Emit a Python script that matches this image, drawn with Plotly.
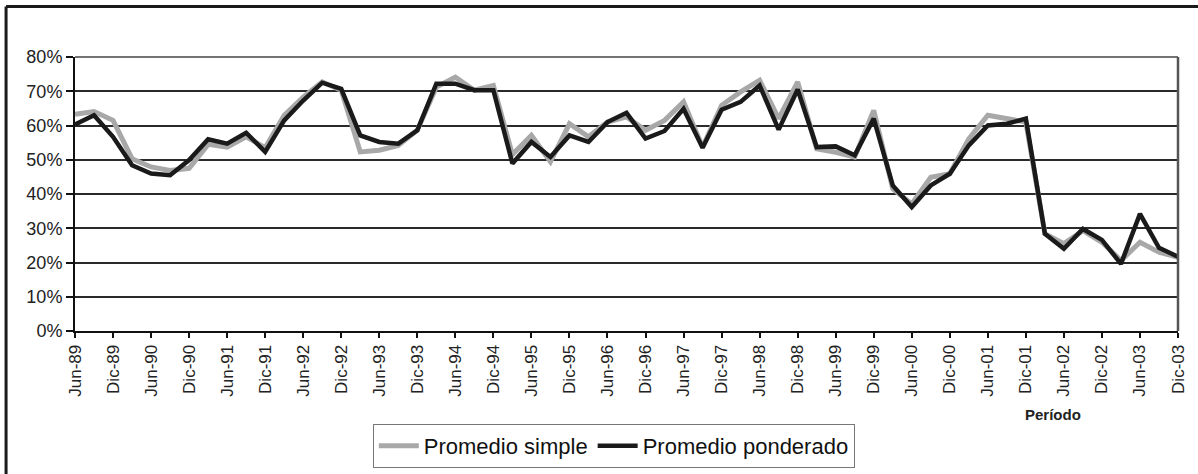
import plotly.graph_objects as go

# Quarterly periods Jun-89 .. Dic-03
months = ["Mar", "Jun", "Sep", "Dic"]
periods = []
y, q = 1989, 1
while (y, q) <= (2003, 3):
    periods.append(f"{months[q]}-{str(y)[2:]}")
    q += 1
    if q == 4:
        q = 0
        y += 1

promedio_simple = [
    63.3, 64.1, 61.5, 50.3, 47.9, 46.9, 47.5, 54.5, 53.7, 56.7,
    53.5, 63.0, 68.3, 72.7, 70.3, 52.3, 52.8, 54.2, 58.6, 71.2,
    74.1, 70.3, 71.7, 51.5, 57.1, 49.4, 60.5, 56.7, 61.0, 62.5,
    58.6, 61.5, 66.9, 53.7, 65.9, 69.8, 73.2, 62.0, 72.7, 53.2,
    52.2, 50.8, 64.4, 41.5, 37.1, 44.9, 45.9, 56.1, 63.0, 62.0,
    61.0, 28.4, 25.5, 29.3, 25.9, 20.6, 25.9, 23.0, 21.5,
]
promedio_ponderado = [
    60.3, 63.0, 56.7, 48.4, 46.0, 45.5, 49.9, 56.0, 54.7, 57.9,
    52.3, 61.5, 67.3, 72.5, 70.7, 57.1, 55.2, 54.7, 58.6, 72.2,
    72.2, 70.3, 70.3, 48.9, 55.2, 50.8, 57.1, 55.2, 61.0, 63.7,
    56.2, 58.4, 64.9, 53.5, 64.6, 66.9, 71.7, 58.8, 70.5, 53.7,
    53.9, 51.3, 62.0, 42.5, 36.2, 42.5, 45.9, 54.2, 60.0, 60.5,
    62.0, 28.4, 24.0, 29.8, 26.6, 19.6, 34.2, 24.3, 21.7,
]
tick_labels = periods[::2]
y_ticks = [0, 10, 20, 30, 40, 50, 60, 70, 80]
y_tick_text = [f"{v}%" for v in y_ticks]

FONT = "Liberation Sans, Arial, sans-serif"

fig = go.Figure()
fig.add_trace(go.Scatter(
    x=periods, y=promedio_simple, mode="lines", name="Promedio simple",
    line=dict(color="#a8a8a8", width=5),
))
fig.add_trace(go.Scatter(
    x=periods, y=promedio_ponderado, mode="lines", name="Promedio ponderado",
    line=dict(color="#1a1a1a", width=4.5),
))

fig.update_layout(
    width=1198, height=474,
    margin=dict(l=75, r=20, t=57, b=143, autoexpand=False),
    paper_bgcolor="white", plot_bgcolor="white",
    font=dict(family=FONT, color="#222222"),
    showlegend=True,
    legend=dict(
        orientation="h", x=0.27, xanchor="left", y=-0.339, yanchor="top",
        bordercolor="#777777", borderwidth=1, bgcolor="white",
        font=dict(size=22, family=FONT, color="#111111"),
        itemwidth=40, tracegroupgap=0,
    ),
    xaxis=dict(
        type="category", categoryorder="array", categoryarray=periods,
        range=[0, len(periods) - 1],
        tickmode="array", tickvals=tick_labels, ticktext=tick_labels,
        tickangle=-90, tickfont=dict(size=17, family=FONT, color="#222222"),
        ticks="outside", ticklen=5, tickwidth=2, tickcolor="#111111",
        showline=True, linecolor="#111111", linewidth=2,
        showgrid=False, zeroline=False,
    ),
    yaxis=dict(
        range=[0, 80], tickmode="array", tickvals=y_ticks, ticktext=y_tick_text,
        tickfont=dict(size=18, family=FONT, color="#222222"),
        ticks="outside", ticklen=7, tickwidth=1.5, tickcolor="#111111",
        showline=True, linecolor="#111111", linewidth=2,
        showgrid=True, gridcolor="#2a2a2a", gridwidth=1.5,
        zeroline=False,
    ),
    shapes=[
        # plot area border (top / right)
        dict(type="line", xref="paper", yref="paper", x0=0, x1=1, y0=1, y1=1,
             line=dict(color="#444444", width=1.5)),
        dict(type="line", xref="paper", yref="paper", x0=1, x1=1, y0=0, y1=1,
             line=dict(color="#555555", width=2.5)),
        # outer frame (top / left)
        dict(type="line", xref="paper", yref="paper", x0=-0.0625, x1=1.05,
             y0=1.1843, y1=1.1843, line=dict(color="#1a1a1a", width=3)),
        dict(type="line", xref="paper", yref="paper", x0=-0.0625, x1=-0.0625,
             y0=1.1843, y1=-0.6, line=dict(color="#1a1a1a", width=3)),
    ],
    annotations=[
        dict(text="<b>Período</b>", xref="paper", yref="paper",
             x=(1053 - 75) / 1103, y=(331 - 414) / 274,
             xanchor="center", yanchor="middle", showarrow=False,
             font=dict(size=15, family=FONT, color="#222222")),
    ],
)

fig.write_html(
    "out.html",
    config={"displayModeBar": False},
    post_script="document.body.style.margin='0';document.body.style.overflow='hidden';",
)
